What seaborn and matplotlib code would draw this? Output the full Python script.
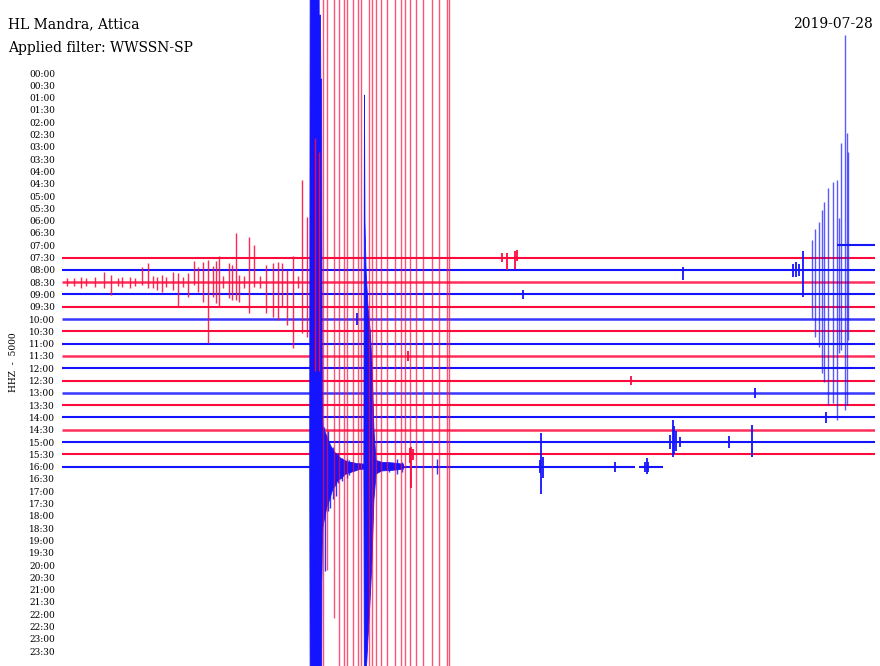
import numpy as np
import pandas as pd
import matplotlib
matplotlib.use("Agg")
import matplotlib.pyplot as plt
import seaborn as sns

# -------------------------
# Data (time = minutes inside the 30 min row, amplitude = row spacings)
# -------------------------
row_labels = [f"{h:02d}:{m:02d}" for h in range(24) for m in (0, 30)]

trace_rows = ["07:00", "07:30", "08:00", "08:30", "09:00", "09:30", "10:00", "10:30", "11:00",
              "11:30", "12:00", "12:30", "13:00", "13:30", "14:00", "14:30", "15:00", "15:30",
              "16:00", "16:00"]
trace_start = [28.6, 0, 0, 0, 0, 0, 0, 0, 0, 0, 0, 0, 0, 0, 0, 0, 0, 0, 0, 21.29]
trace_end = [30, 30, 30, 30, 30, 30, 30, 30, 30, 30, 30, 30, 30, 30, 30, 30, 30, 30, 21.14, 22.18]
noisy_rows = ["08:30", "10:00", "11:30", "13:00", "14:30"]

# swarm on the 08:30 trace
swarm_min = [0.2, 0.45, 0.69, 0.9, 1.2, 1.55, 1.81, 2.05, 2.2, 2.5, 2.7, 2.94, 3.18, 3.35,
             3.49, 3.68, 3.85, 4.08, 4.27, 4.45, 4.66, 4.88, 5.03, 5.21, 5.40, 5.56, 5.68,
             5.80, 5.95, 6.16, 6.28, 6.41, 6.54, 6.7, 6.89, 7.08, 7.3, 7.53, 7.80, 7.96,
             8.11, 8.29, 8.54, 8.7, 8.85, 9.04, 9.34, 9.48]
swarm_up = [0.3, 0.35, 0.43, 0.3, 0.4, 0.84, 0.57, 0.35, 0.4, 0.45, 0.3, 1.24, 1.52, 0.5,
            0.43, 0.57, 0.4, 0.84, 0.73, 0.4, 0.71, 1.73, 1.24, 1.65, 1.79, 1.3, 1.73,
            2.11, 0.5, 1.52, 1.38, 4.0, 0.57, 0.5, 3.68, 3.0, 0.5, 1.38, 1.57, 1.65,
            1.52, 0.98, 2.11, 0.5, 8.29, 5.31, 11.7, 10.6]
swarm_down = [0.3, 0.35, 0.51, 0.3, 0.4, 0.51, 1.06, 0.35, 0.4, 0.45, 0.3, 0.24, 0.49, 0.5,
              0.65, 0.79, 0.4, 0.65, 2.0, 0.4, 1.2, 0.24, 0.79, 1.6, 4.98, 1.2, 1.73,
              2.0, 0.5, 1.33, 1.46, 1.46, 1.6, 0.5, 2.54, 0.38, 0.5, 2.54, 2.82, 3.09,
              2.0, 3.5, 5.39, 0.5, 4.17, 4.45, 7.2, 7.2]

# late sequence on the 09:00 trace
late_min = [27.66, 27.77, 27.93, 28.04, 28.13, 28.28, 28.46, 28.60, 28.69, 28.75, 28.89, 28.96, 29.01]
late_up = [4.4, 5.3, 5.9, 6.9, 7.5, 8.65, 9.1, 9.3, 6.2, 12.3, 21.1, 13.1, 11.6]
late_down = [1.9, 3.5, 4.3, 6.4, 7.1, 9.0, 8.8, 10.2, 4.8, 4.5, 9.4, 9.0, 3.7]

# clipped swings on the 15:30 trace
clip_min = [9.64, 9.77, 10.05, 10.22, 10.41, 10.53, 10.73, 10.93, 11.03, 11.33, 11.45, 11.58,
            11.77, 11.99, 12.30, 12.51, 12.67, 12.84, 13.07, 13.32, 13.64, 13.92, 14.21, 14.28]
clip_up = [37, 45, 45, 45, 45, 45, 45, 45, 45, 45, 45, 45,
           45, 45, 45, 45, 45, 45, 45, 45, 45, 45, 45, 45]
clip_down = [20, 9.4, 13.3, 20, 20, 20, 20, 20, 20, 20, 20, 20,
             20, 20, 20, 20, 20, 20, 20, 20, 20, 20, 20, 20]

# coda spikes on the 16:00 trace
coda_min = [9.66, 9.72, 9.8, 9.9, 10.0, 10.1, 10.2, 10.35, 10.5, 10.6, 12.05, 12.36, 12.55, 13.84]
coda_up = [3.2, 2.6, 2.9, 1.5, 1.6, 1.0, 1.1, 0.7, 0.6, 0.5, 0.4, 0.6, 0.4, 0.6]
coda_down = [4.2, 8.5, 3.6, 3.4, 2.6, 2.4, 1.3, 1.2, 0.9, 0.7, 0.4, 0.6, 0.4, 0.6]

# smaller events
event_row = ["07:30", "07:30", "07:30", "07:30", "08:00", "08:00", "08:00", "08:00", "08:00",
             "09:00", "10:00", "11:30", "12:30", "13:00", "14:00", "15:00", "15:00",
             "15:00", "15:00", "15:00", "15:00", "15:00", "15:30", "15:30", "15:30",
             "16:00", "16:00", "16:00", "16:00", "16:00", "16:00", "16:00"]
event_min = [16.22, 16.41, 16.72, 16.78, 22.9, 26.97, 27.1, 27.2, 27.35,
             17.0, 10.87, 12.77, 20.98, 25.57, 28.19, 24.6, 25.45,
             22.45, 22.53, 22.58, 22.65, 22.8, 12.84, 12.88, 12.95,
             17.62, 17.68, 17.74, 20.4, 21.5, 21.57, 21.62]
event_up = [0.4, 0.4, 0.5, 0.6, 0.2, 0.5, 0.6, 0.5, 1.5,
            0.35, 0.5, 0.4, 0.4, 0.4, 0.45, 0.5, 1.4,
            0.6, 1.8, 1.3, 0.9, 0.4, 0.5, 0.6, 0.4,
            0.5, 2.7, 0.8, 0.4, 0.4, 0.7, 0.4]
event_down = [0.4, 1.0, 0.9, 0.3, 0.8, 0.6, 0.6, 0.5, 2.2,
              0.35, 0.5, 0.4, 0.4, 0.4, 0.45, 0.5, 1.2,
              0.6, 1.2, 1.0, 0.7, 0.4, 0.7, 2.7, 0.5,
              0.5, 2.2, 0.9, 0.4, 0.4, 0.6, 0.4]

# envelope of the big events on the 16:00 trace
env_min = [9.14, 9.16, 9.48, 9.49, 9.54, 9.55, 9.58, 9.59, 9.61, 9.63, 9.70, 9.78, 9.85, 9.93,
           10.00, 10.07, 10.15, 10.22, 10.30, 10.37, 10.44, 10.52, 10.63, 10.74, 10.85,
           10.96, 11.14, 11.16, 11.18, 11.22, 11.29, 11.37, 11.44, 11.51, 11.59, 11.8, 12.2, 12.6]
env_up = [0.2, 45, 45, 36.7, 36.7, 31.5, 31.5, 18.4, 4.0, 3.25, 2.85, 2.44, 2.03, 1.63,
          1.38, 1.14, 0.98, 0.81, 0.65, 0.57, 0.49, 0.41, 0.33, 0.33, 0.24,
          0.24, 0.2, 30.2, 19.9, 16.0, 13.0, 11.1, 8.4, 3.0, 0.5, 0.35, 0.3, 0.2]
env_down = [0.2, 20, 20, 20, 20, 20, 20, 9.4, 6.0, 4.88, 4.07, 3.25, 2.85, 2.28,
            1.79, 1.63, 1.22, 1.06, 0.98, 0.81, 0.65, 0.57, 0.49, 0.41, 0.33,
            0.24, 0.2, 20, 20, 17.0, 14.0, 10.8, 7.6, 2.7, 0.6, 0.35, 0.3, 0.2]

# -------------------------
# Look
# -------------------------
sns.set_theme(style="white")
plt.rcParams['font.family'] = ['DejaVu Serif']
plt.rcParams['text.color'] = 'black'
red = "#ff0a3c"
blue = "#1414ff"


def row_pos(label):
    return row_labels.index(label)


def row_color(label):
    return blue if row_pos(label) % 2 == 0 else red


fig = plt.figure(figsize=(8.8, 6.66), dpi=100)
ax = fig.add_axes([62 / 880, 0, (875 - 62) / 880, 1])
ax.set_xlim(0, 30)
ax.set_ylim(48.21, -5.935)

# traces
for lab, t0, t1 in zip(trace_rows, trace_start, trace_end):
    if lab in noisy_rows:
        ax.hlines(row_pos(lab), t0, t1, color=row_color(lab), lw=1.8, alpha=0.85, zorder=2)
    else:
        ax.hlines(row_pos(lab), t0, t1, color=row_color(lab), lw=1.5, zorder=2)

# big events on 16:00
y16 = row_pos("16:00")
ax.fill_between(env_min, y16 - np.array(env_up), y16 + np.array(env_down),
                color=blue, lw=0.6, zorder=3)

spikes = pd.concat([
    pd.DataFrame({"row": "08:30", "t": swarm_min, "up": swarm_up, "down": swarm_down, "kind": "swarm"}),
    pd.DataFrame({"row": "09:00", "t": late_min, "up": late_up, "down": late_down, "kind": "thin"}),
    pd.DataFrame({"row": "15:30", "t": clip_min, "up": clip_up, "down": clip_down, "kind": "thin"}),
    pd.DataFrame({"row": "16:00", "t": coda_min, "up": coda_up, "down": coda_down, "kind": "swarm"}),
    pd.DataFrame({"row": event_row, "t": event_min, "up": event_up, "down": event_down, "kind": "small"}),
])
spikes["y"] = spikes["row"].map(row_pos)
spikes["color"] = spikes["row"].map(row_color)

styles = {"thin": (1.0, 0.7), "swarm": (1.0, 0.88), "small": (1.3, 1.0)}
for (kind, col), g in spikes.groupby(["kind", "color"]):
    lw, alpha = styles[kind]
    ax.vlines(g["t"], g["y"] - g["up"], g["y"] + g["down"], color=col, lw=lw,
              alpha=alpha, zorder=4)

# axis labels
ax.set_yticks(range(len(row_labels)))
ax.set_yticklabels(row_labels, fontsize=6.5, color='black')
ax.set_xticks([])
ax.tick_params(axis='y', length=0, pad=5)
sns.despine(ax=ax, left=True, bottom=True)
ax.grid(False)

fig.text(8 / 880, 1 - 28 / 666, "HL Mandra, Attica", fontsize=10, va='baseline')
fig.text(8 / 880, 1 - 52 / 666, "Applied filter: WWSSN-SP", fontsize=10, va='baseline')
fig.text(873 / 880, 1 - 28 / 666, "2019-07-28", fontsize=10, ha='right', va='baseline')
fig.text(13 / 880, 1 - 362 / 666, "HHZ  -  5000", fontsize=6.5, rotation=90,
         ha='center', va='center')

fig.savefig("out.png", dpi=100, facecolor="white")
